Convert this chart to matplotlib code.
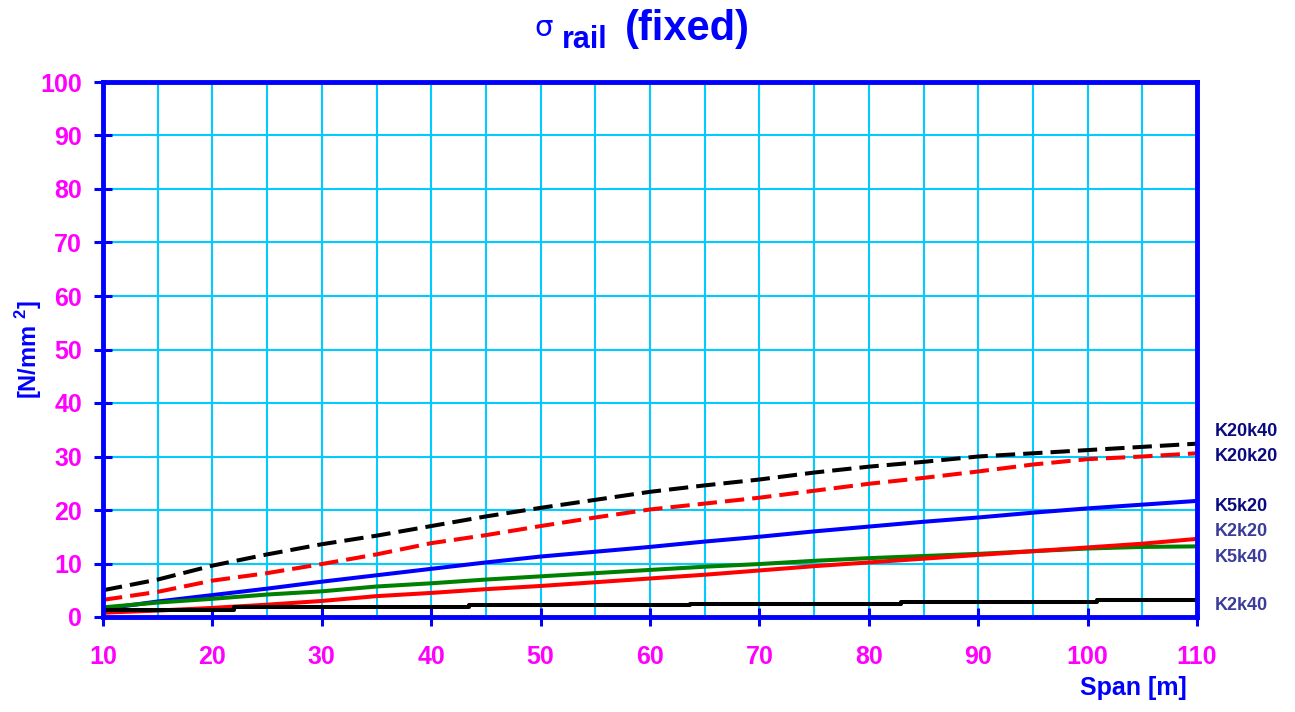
import matplotlib
matplotlib.use("Agg")
import matplotlib.pyplot as plt
from matplotlib.ticker import MultipleLocator
import matplotlib.transforms as mtransforms

plt.rcParams['font.family'] = ['Liberation Sans', 'DejaVu Sans']
plt.rcParams['mathtext.fontset'] = 'custom'
plt.rcParams['mathtext.rm'] = 'Liberation Sans:bold'
plt.rcParams['mathtext.bf'] = 'Liberation Sans:bold'

# Span in metres
span = [10, 15, 20, 25, 30, 35, 40, 45, 50, 55, 60,
        65, 70, 75, 80, 85, 90, 95, 100, 105, 110]

# Rail stress [N/mm^2]
k20k40 = [5.0, 7.0, 9.6, 11.7, 13.6, 15.2, 17.0, 18.8, 20.4, 21.9, 23.4,
          24.6, 25.7, 27.0, 28.1, 29.0, 30.0, 30.6, 31.2, 31.8, 32.4]
k20k20 = [3.2, 4.7, 6.8, 8.2, 9.9, 11.7, 13.8, 15.3, 17.0, 18.6, 20.1,
          21.2, 22.3, 23.6, 24.9, 26.0, 27.2, 28.5, 29.5, 30.0, 30.6]
k5k20 = [1.5, 2.9, 4.1, 5.3, 6.6, 7.8, 9.0, 10.2, 11.3, 12.2, 13.1,
         14.1, 15.0, 16.0, 16.9, 17.8, 18.6, 19.5, 20.3, 21.0, 21.7]
k5k40 = [1.8, 2.7, 3.4, 4.2, 4.8, 5.7, 6.3, 7.0, 7.6, 8.2, 8.8,
         9.4, 9.9, 10.5, 11.0, 11.4, 11.8, 12.3, 12.8, 13.1, 13.2]
k2k20 = [0.8, 1.2, 1.7, 2.3, 3.0, 3.9, 4.5, 5.2, 5.8, 6.5, 7.2,
         7.9, 8.7, 9.5, 10.2, 10.9, 11.6, 12.3, 13.0, 13.7, 14.6]

# K2k40 changes in discrete steps
k2k40_span = [10, 22, 43.5, 63.7, 82.9, 100.9, 110]
k2k40 = [1.4, 1.8, 2.2, 2.5, 2.8, 3.2, 3.2]

# End labels and their vertical positions
label_text = ["K20k40", "K20k20", "K5k20", "K2k20", "K5k40", "K2k40"]
label_y = [34.6, 30.0, 20.6, 15.9, 11.1, 2.1]
label_color = ["#0a0a80", "#0a0a80", "#0a0a80", "#3b3b99", "#3b3b99", "#3b3b99"]

xticks = list(range(10, 111, 10))
yticks = list(range(0, 101, 10))

W, H = 1295, 712
fig = plt.figure(figsize=(W / 100, H / 100), dpi=100)
ax = fig.add_axes([103 / W, 1 - 617 / H, (1197 - 103) / W, (617 - 82) / H])

grid_c = "#00ccff"
ax.set_xlim(10, 110)
ax.set_ylim(0, 100)
ax.set_xticks(xticks)
ax.set_yticks(yticks)
ax.xaxis.set_minor_locator(MultipleLocator(5))
ax.grid(True, which='both', axis='x', color=grid_c, lw=1.5)
ax.grid(True, which='major', axis='y', color=grid_c, lw=1.5)
ax.set_axisbelow(True)
ax.tick_params(axis='x', which='minor', length=0)

for s in ax.spines.values():
    s.set_color("#0000ff")
    s.set_linewidth(3.5)
    s.set_zorder(5)

ax.tick_params(axis='both', which='major', direction='inout', length=13,
               width=2.2, color="#0000ff", labelcolor="#ff00ff",
               labelsize=18)
ax.tick_params(axis='x', which='major', pad=14)
ax.tick_params(axis='y', which='major', pad=8.5)
for lab in ax.get_xticklabels() + ax.get_yticklabels():
    lab.set_fontweight('bold')

lw = 2.9
dash = (4.8, 2.0)
ax.plot(span, k20k40, color='black', lw=lw, dashes=dash, zorder=3)
ax.plot(span, k20k20, color='#ff0000', lw=lw, dashes=dash, zorder=3)
ax.plot(span, k5k20, color='#0000ff', lw=lw, zorder=3)
ax.plot(span, k5k40, color='#008000', lw=lw, zorder=3)
ax.plot(span, k2k20, color='#ff0000', lw=lw, zorder=3)
ax.plot(k2k40_span, k2k40, color='black', lw=lw, drawstyle='steps-post', zorder=3)

trans = mtransforms.blended_transform_factory(ax.transAxes, ax.transData)
for t, y, c in zip(label_text, label_y, label_color):
    ax.text(1.0165, y, t, transform=trans, ha='left', va='center',
            fontsize=13, fontweight='bold', color=c, clip_on=False)

# Title built from pieces: sigma, subscript, and the rest
fig.text(534 / W, 1 - 36 / H, "σ", fontsize=21, color="#0000ff",
         ha='left', va='baseline', family=['DejaVu Sans'])
fig.text(562 / W, 1 - 48 / H, "rail", fontsize=22, fontweight='bold',
         color="#0000ff", ha='left', va='baseline')
fig.text(625 / W, 1 - 40 / H, "(fixed)", fontsize=30, fontweight='bold',
         color="#0000ff", ha='left', va='baseline')

fig.text(29 / W, 1 - 350 / H, r"[N/mm $^{2}$]", fontsize=17,
         fontweight='bold', color="#0000ff", rotation=90,
         ha='center', va='center')
fig.text(1187 / W, 1 - 695 / H, "Span [m]", fontsize=18, fontweight='bold',
         color="#0000ff", ha='right', va='baseline')

fig.savefig("out.png", dpi=100)
